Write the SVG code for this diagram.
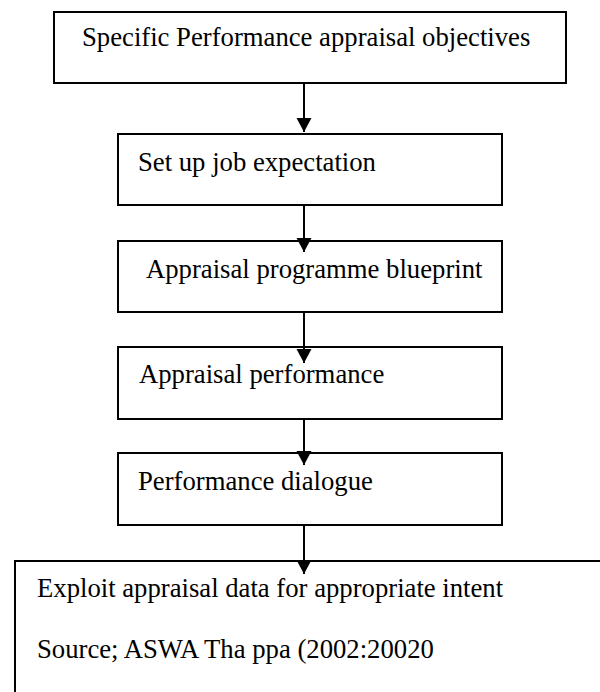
<svg xmlns="http://www.w3.org/2000/svg" width="600" height="692" viewBox="0 0 600 692">
<style>
.box{fill:#fff;stroke:#000;stroke-width:2}
.lbl{font-family:"Liberation Serif","Times New Roman",serif;font-size:26.7px;fill:#000}
.conn{stroke:#000;stroke-width:2;fill:none}
</style>
<defs>
<marker id="ahd" markerUnits="userSpaceOnUse" markerWidth="16" markerHeight="16" viewBox="-8 -15 16 16" refX="0" refY="0" orient="0">
<path d="M-7.5,-14 L7.5,-14 L0,0 Z" fill="#000"/>
</marker>
</defs>
<g id="n1"><rect class="box" x="54" y="12" width="512" height="71"/><text class="lbl" x="82" y="46">Specific Performance appraisal objectives</text></g>
<g id="n2"><rect class="box" x="118" y="134" width="384" height="71"/><text class="lbl" x="138" y="171">Set up job expectation</text></g>
<g id="n3"><rect class="box" x="118" y="241" width="384" height="71"/><text class="lbl" x="146" y="278">Appraisal programme blueprint</text></g>
<g id="n4"><rect class="box" x="118" y="347" width="384" height="72"/><text class="lbl" x="139" y="383">Appraisal performance</text></g>
<g id="n5"><rect class="box" x="118" y="453" width="384" height="72"/><text class="lbl" x="138" y="490">Performance dialogue</text></g>
<g id="n6"><rect class="box" x="15" y="561" width="620" height="200"/><text class="lbl" x="37" y="597">Exploit appraisal data for appropriate intent</text><text class="lbl" x="37" y="658">Source; ASWA Tha ppa (2002:20020</text></g>
<g id="connectors">
<line class="conn" x1="304" y1="83" x2="304" y2="132" marker-end="url(#ahd)"/>
<line class="conn" x1="304" y1="205" x2="304" y2="252" marker-end="url(#ahd)"/>
<line class="conn" x1="304" y1="312" x2="304" y2="363" marker-end="url(#ahd)"/>
<line class="conn" x1="304" y1="419" x2="304" y2="465" marker-end="url(#ahd)"/>
<line class="conn" x1="304" y1="525" x2="304" y2="574" marker-end="url(#ahd)"/>
</g>
</svg>
